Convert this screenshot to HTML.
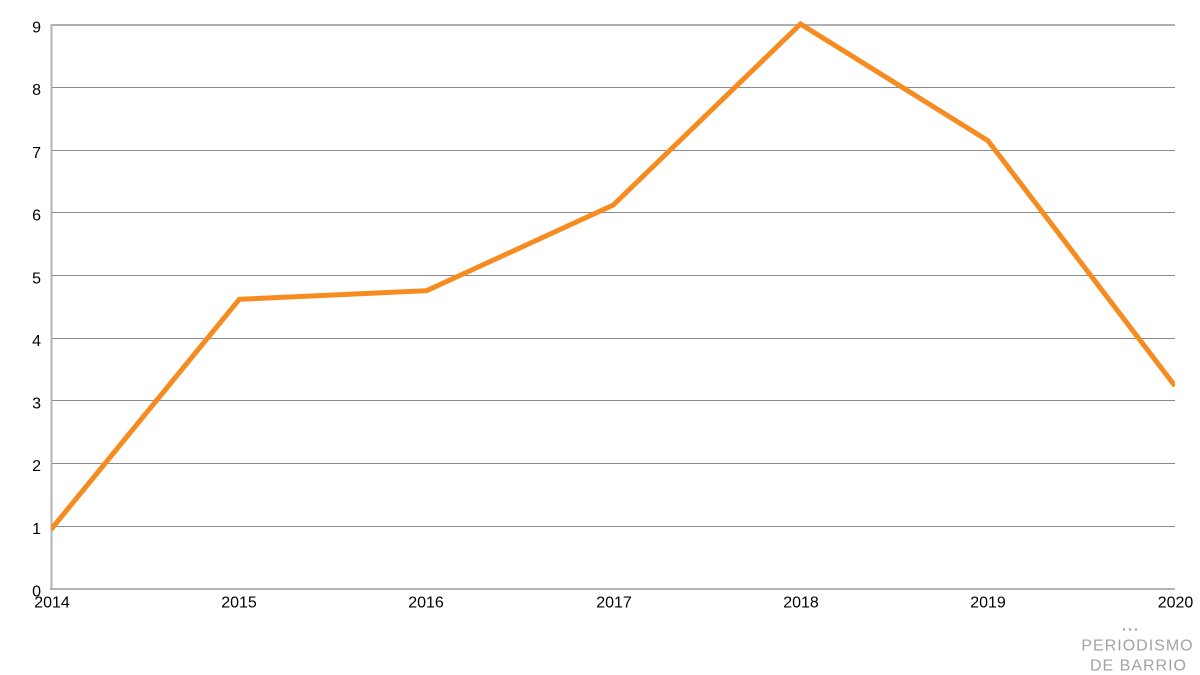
<!DOCTYPE html>
<html>
<head>
<meta charset="utf-8">
<style>
html,body{margin:0;padding:0;background:#fff;}
svg{display:block;}
text{font-family:"Liberation Sans",sans-serif;}
</style>
</head>
<body>
<svg width="1200" height="675" viewBox="0 0 1200 675" xmlns="http://www.w3.org/2000/svg">
  <rect width="1200" height="675" fill="#fff"/>
  <!-- gridlines -->
  <g stroke="#8a8a8a" stroke-width="1">
    <line x1="51" x2="1175" y1="87.5" y2="87.5"/>
    <line x1="51" x2="1175" y1="150.5" y2="150.5"/>
    <line x1="51" x2="1175" y1="212.5" y2="212.5"/>
    <line x1="51" x2="1175" y1="275.5" y2="275.5"/>
    <line x1="51" x2="1175" y1="338.5" y2="338.5"/>
    <line x1="51" x2="1175" y1="400.5" y2="400.5"/>
    <line x1="51" x2="1175" y1="463.5" y2="463.5"/>
    <line x1="51" x2="1175" y1="526.5" y2="526.5"/>
  </g>
  <line x1="51" x2="1175" y1="25" y2="25" stroke="#b0b0b0" stroke-width="2"/>
  <!-- axes -->
  <line x1="51.5" x2="51.5" y1="24" y2="590" stroke="#b3b3b3" stroke-width="2"/>
  <line x1="50" x2="1175" y1="589" y2="589" stroke="#b3b3b3" stroke-width="2"/>
  <!-- y labels -->
  <g font-size="16" fill="#000" text-anchor="end">
    <text x="41" y="32.5">9</text>
    <text x="41" y="95.2">8</text>
    <text x="41" y="157.8">7</text>
    <text x="41" y="220.5">6</text>
    <text x="41" y="283.3">5</text>
    <text x="41" y="345.8">4</text>
    <text x="41" y="408.5">3</text>
    <text x="41" y="471.2">2</text>
    <text x="41" y="533.8">1</text>
    <text x="41" y="596.5">0</text>
  </g>
  <!-- x labels -->
  <g font-size="16" fill="#000" text-anchor="middle">
    <text x="52" y="607.5">2014</text>
    <text x="239" y="607.5">2015</text>
    <text x="426" y="607.5">2016</text>
    <text x="614" y="607.5">2017</text>
    <text x="801" y="607.5">2018</text>
    <text x="988" y="607.5">2019</text>
    <text x="1175.5" y="607.5">2020</text>
  </g>
  <!-- series -->
  <clipPath id="c"><rect x="51" y="0" width="1124" height="600"/></clipPath>
  <polyline clip-path="url(#c)" fill="none" stroke="#f68b1f" stroke-width="5" stroke-linejoin="miter"
    points="51,529.5 239.3,299.3 426.7,290.7 613.3,205 800.5,24 988,140.7 1175,386"/>
  <!-- logo -->
  <g fill="#a2a2a2">
    <circle cx="1124" cy="629.5" r="1.2"/>
    <circle cx="1130" cy="629.5" r="1.2"/>
    <circle cx="1136" cy="629.5" r="1.2"/>
    <text x="1137.5" y="650.5" font-size="16" text-anchor="middle" letter-spacing="1">PERIODISMO</text>
    <text x="1138.5" y="670.5" font-size="16" text-anchor="middle" letter-spacing="1">DE BARRIO</text>
  </g>
</svg>
</body>
</html>
